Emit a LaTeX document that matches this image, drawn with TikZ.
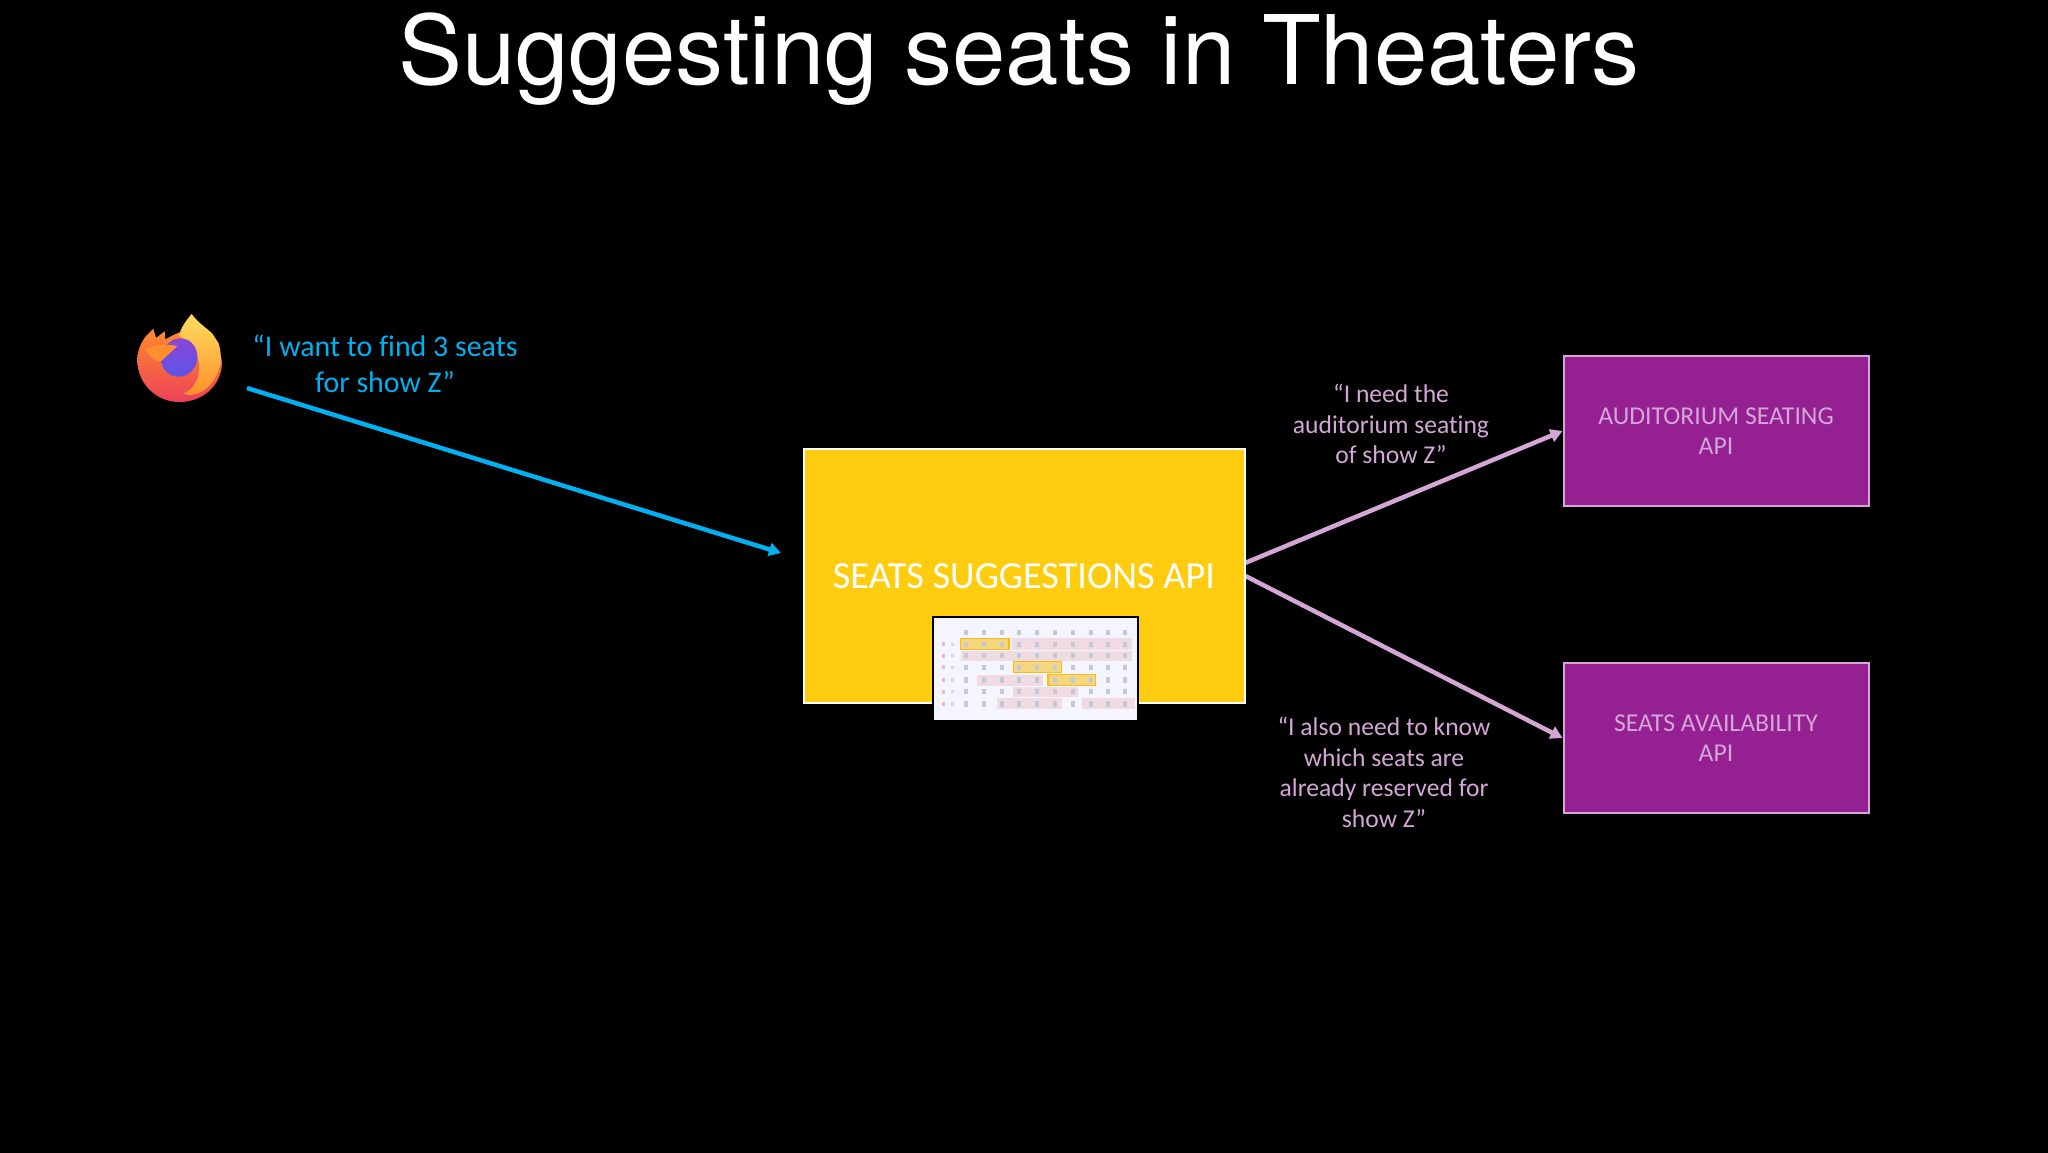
\documentclass[tikz,border=0pt]{standalone}
\usepackage{fontspec}
\setmainfont{Carlito}[Ligatures={NoCommon,TeX}]
\newfontfamily\titlefont{TeX Gyre Heros}
\usepackage{tikz}
\usetikzlibrary{arrows.meta}
\pgfdeclarelayer{bg}
\pgfsetlayers{bg,main}
\definecolor{apiyellow}{HTML}{FFCC0F}
\definecolor{apipurple}{HTML}{942092}
\definecolor{apipink}{HTML}{D3A6D6}
\definecolor{askblue}{HTML}{00B0F0}
\definecolor{seatpink}{HTML}{F0DBE2}
\definecolor{seatyellow}{HTML}{F4D77E}
\definecolor{seatedge}{HTML}{FBBB12}
\definecolor{seatmark}{HTML}{C3C9D6}
\definecolor{foxorange}{HTML}{FF8F2C}
\definecolor{foxred}{HTML}{EE4058}
\definecolor{foxyellow}{HTML}{FFDC5E}
\definecolor{foxviolet}{HTML}{8A45D6}
\definecolor{foxblue}{HTML}{5C55E6}
\tikzset{
  bigbox/.style={draw=white, line width=2pt, fill=apiyellow, text=white, minimum width=441pt, minimum height=254pt, font=\fontsize{38.3}{44}\selectfont},
  smallbox/.style={draw=apipink, line width=2pt, fill=apipurple, text=apipink, minimum width=305pt, minimum height=150pt, align=center, font=\fontsize{25.7}{30.6}\selectfont},
  saying/.style={text=apipink, align=center, font=\fontsize{25.6}{30.6}\selectfont},
  request/.style={draw=apipink, line width=4.5pt, -{Triangle[length=12pt,width=13pt]}},
  seatband/.style={fill=seatpink, draw=none},
  seatpick/.style={fill=seatyellow, draw=seatedge, line width=1.4pt},
}
\begin{document}
\begin{tikzpicture}[x=1pt,y=-1pt]
        \useasboundingbox (0,0) rectangle (2048,1152);
        \node (title) [text=white, font=\titlefont\fontsize{96}{104}\selectfont] at (1019,59) {Suggesting seats in Theaters};
        \node (ask) [text=askblue, align=center, font=\fontsize{29.9}{35.5}\selectfont] at (385,364) {“I want to find 3 seats\\for show Z”};
        \node (suggest) [bigbox] at (1024,576) {SEATS SUGGESTIONS API};
        \node (audit) [smallbox] at (1716,431) {AUDITORIUM SEATING\\API};
        \node (avail) [smallbox] at (1716,738) {SEATS AVAILABILITY\\API};
        \node (needtext) [saying] at (1391,424) {“I need the\\auditorium seating\\of show Z”};
        \node (alsotext) [saying] at (1384,772.5) {“I also need to know\\which seats are\\already reserved for\\show Z”};
        \coordinate (c0) at (247,388);
        \coordinate (c1) at (781,553);
        \coordinate (c2) at (1245,563);
        % browser icon
        \begin{scope}[shift={(120,300)}, x=0.3333pt, y=-0.3333pt]
                \path [top color=foxorange, bottom color=foxred]
                        (52,180) .. controls (52,150) and (65,125) .. (78,108) -- (100,86) -- (108,114) -- (134,94) -- (136,118)
                        .. controls (170,100) and (200,80) .. (240,100)
                        .. controls (285,125) and (306,160) .. (306,190)
                        .. controls (304,255) and (250,306) .. (178,306)
                        .. controls (108,306) and (52,250) .. (52,180) -- cycle;
                \path [top color=foxyellow, bottom color=foxorange]
                        (215,42) .. controls (235,70) and (262,85) .. (278,102) -- (296,130)
                        .. controls (308,170) and (306,215) .. (270,255)
                        .. controls (245,285) and (205,290) .. (190,280)
                        .. controls (225,270) and (245,225) .. (235,180)
                        .. controls (225,140) and (200,120) .. (178,108)
                        .. controls (180,85) and (200,60) .. (215,42) -- cycle;
                \path [top color=foxviolet, bottom color=foxblue]
                        (180,115) .. controls (215,115) and (235,145) .. (232,178)
                        .. controls (228,210) and (200,232) .. (172,230)
                        .. controls (145,228) and (124,205) .. (124,180)
                        .. controls (124,145) and (150,115) .. (180,115) -- cycle;
                \path [fill=foxorange]
                        (75,150) .. controls (100,135) and (130,130) .. (172,138) -- (125,182)
                        .. controls (115,190) and (95,175) .. (75,150) -- cycle;
        \end{scope}
        % seat map
        \node (seatmap) [draw=black, line width=1.5pt, fill=white!96!blue, minimum width=205pt, minimum height=104pt] at (1035.5,669) {};
        \begin{scope}[shift={(920,610)}, x=0.3333pt, y=-0.3333pt]
                \fill [seatband] (275,85) rectangle (635,120);
                \fill [seatband] (122,122) rectangle (635,153);
                \fill [seatband] (172,195) rectangle (370,228);
                \fill [seatband] (280,230) rectangle (475,262);
                \fill [seatband] (232,265) rectangle (425,297);
                \fill [seatband] (487,265) rectangle (645,297);
                \draw [seatpick] (122,85) rectangle (267,118);
                \draw [seatpick] (280,155) rectangle (424,188);
                \draw [seatpick] (384,194) rectangle (527,226);
                \foreach \c in {137,192,245,298,352,405,458,512,565,615}
                        \foreach \r in {68,103,137,172,210,245,282}
                                \fill [seatmark] (\c-6,\r-8) rectangle (\c+6,\r+8);
                \foreach \r in {103,137,172,210,245,282} {
                        \fill [seatpink!85!red] (65,\r-6) rectangle (75,\r+6);
                        \fill [seatmark!70!white] (93,\r-5) rectangle (101,\r+5);
                }
        \end{scope}
        \begin{pgfonlayer}{bg}
                \fill [black] (-2,-2) rectangle (2050,1154);
                \draw (c0) edge [draw=askblue, line width=4.5pt, -{Triangle[length=12pt,width=13pt]}] (c1);
                \draw (c2) edge [request] (audit.west);
                \draw (suggest.east) edge [request] (avail.west);
        \end{pgfonlayer}
\end{tikzpicture}
\end{document}
